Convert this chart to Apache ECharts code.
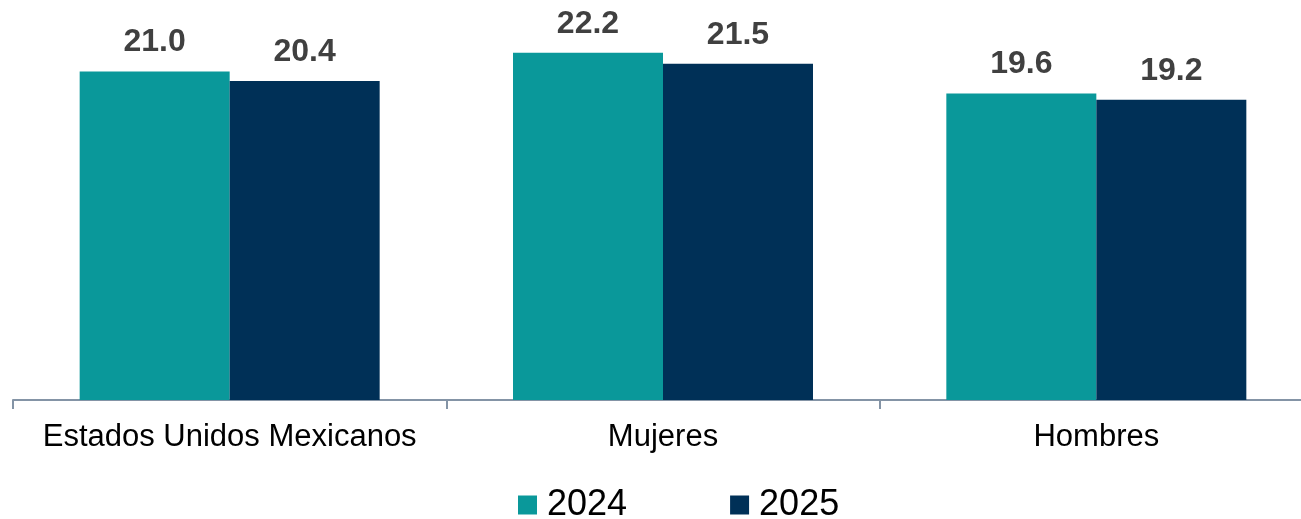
<!DOCTYPE html>
<html>
<head>
<meta charset="utf-8">
<script src="https://cdn.jsdelivr.net/npm/echarts@6/dist/echarts.min.js"></script>
<style>
html, body { margin: 0; padding: 0; background: #fff; }
#chart { width: 1301px; height: 519px; }
</style>
</head>
<body>
<div id="chart"></div>
<script>
const categories = ['Estados Unidos Mexicanos', 'Mujeres', 'Hombres']
const seriesNames = ['2024', '2025']
const values2024 = [21.0, 22.2, 19.6]
const values2025 = [20.4, 21.5, 19.2]
const colors = ['#0A989A', '#003057']

const myChart = echarts.init(document.getElementById('chart'))

function barSeries (name, data, color) {
  return {
    name: name,
    type: 'bar',
    data: data,
    barWidth: 150,
    barGap: '0%',
    itemStyle: { color: color },
    label: {
      show: true,
      position: 'top',
      distance: 13,
      formatter: p => p.value.toFixed(1),
      color: '#404040',
      fontWeight: 'bold',
      fontSize: 32,
      fontFamily: 'Liberation Sans, Arial, sans-serif'
    }
  }
}

myChart.setOption({
  animation: false,
  textStyle: { fontFamily: 'Liberation Sans, Arial, sans-serif' },
  grid: { left: 13, top: 9, width: 1300, height: 391, outerBoundsMode: 'none', containLabel: false },
  legend: {
    data: seriesNames,
    top: 487,
    left: 518,
    padding: 0,
    itemWidth: 19,
    itemHeight: 19,
    itemGap: 103,
    icon: 'rect',
    textStyle: { fontSize: 36, color: '#000', padding: [0, 0, 0, 5] }
  },
  xAxis: {
    type: 'category',
    data: categories,
    axisLine: { lineStyle: { color: '#8494A6', width: 2 } },
    axisTick: { show: true, interval: 0, length: 9, lineStyle: { color: '#8494A6', width: 2 } },
    axisLabel: { fontSize: 31, color: '#000', margin: 22, interval: 0, hideOverlap: false }
  },
  yAxis: {
    type: 'value',
    min: 0,
    max: 25,
    show: false,
    splitLine: { show: false }
  },
  series: [
    barSeries(seriesNames[0], values2024, colors[0]),
    barSeries(seriesNames[1], values2025, colors[1])
  ]
})
</script>
</body>
</html>
